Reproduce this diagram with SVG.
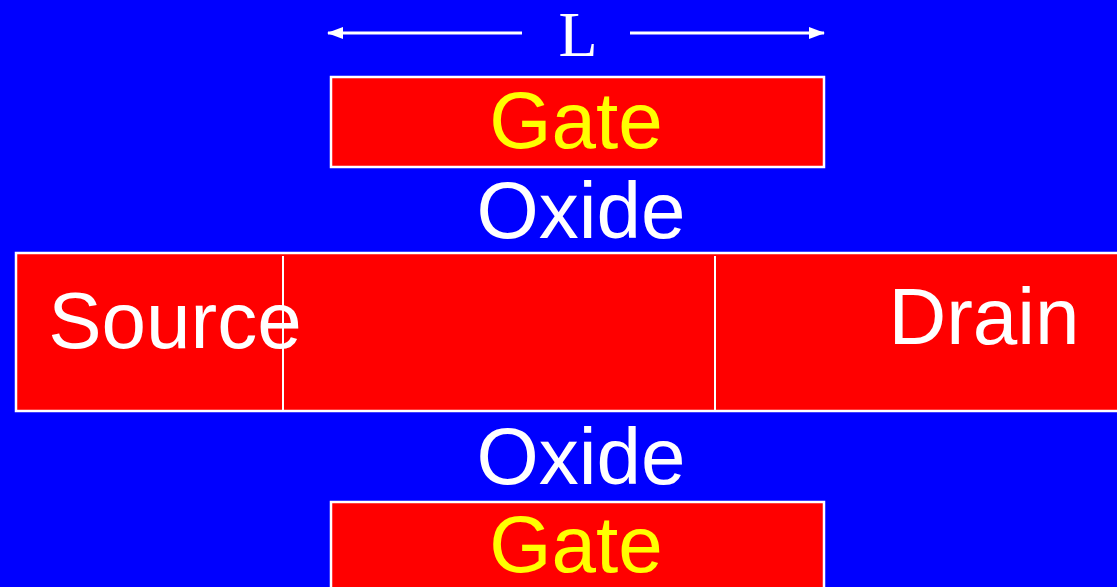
<svg xmlns="http://www.w3.org/2000/svg" width="1117" height="587" viewBox="0 0 1117 587">
<defs>
<style>
.box{fill:#ff0000;stroke:#ffffff;stroke-width:2.5}
.sep{stroke:#ffffff;stroke-width:2}
.lbl{font-family:"Liberation Sans",Arial,sans-serif;font-size:80px;text-anchor:middle}
.w{fill:#ffffff}
.y{fill:#ffff00}
.dim{stroke:#ffffff;stroke-width:3;fill:none}
</style>
<marker id="ah" viewBox="0 0 16 12" refX="15" refY="6" markerWidth="16" markerHeight="12" markerUnits="userSpaceOnUse" orient="auto">
<path d="M0,0 L16,6 L0,12 Z" fill="#ffffff"/>
</marker>
</defs>
<rect x="0" y="0" width="1117" height="587" fill="#0000ff"/>
<g id="connectors">
<line class="dim" x1="522" y1="33" x2="328" y2="33" marker-end="url(#ah)"/>
<line class="dim" x1="630" y1="33" x2="824" y2="33" marker-end="url(#ah)"/>
</g>
<g id="length-label">
<text x="578" y="56" font-family="'Liberation Serif','Times New Roman',serif" font-size="64" fill="#ffffff" text-anchor="middle">L</text>
</g>
<g id="top-gate">
<rect class="box" x="331" y="77" width="493" height="90"/>
<text class="lbl y" x="576" y="148">Gate</text>
</g>
<g id="top-oxide">
<text class="lbl w" x="581" y="238">Oxide</text>
</g>
<g id="channel">
<rect class="box" x="16" y="253" width="1110" height="158"/>
<line class="sep" x1="283" y1="256" x2="283" y2="411"/>
<line class="sep" x1="715" y1="256" x2="715" y2="411"/>
<text class="lbl w" x="175" y="348">Source</text>
<text class="lbl w" x="984" y="344">Drain</text>
</g>
<g id="bottom-oxide">
<text class="lbl w" x="581" y="484">Oxide</text>
</g>
<g id="bottom-gate">
<rect class="box" x="331" y="502" width="493" height="100"/>
<text class="lbl y" x="576" y="572">Gate</text>
</g>
</svg>
